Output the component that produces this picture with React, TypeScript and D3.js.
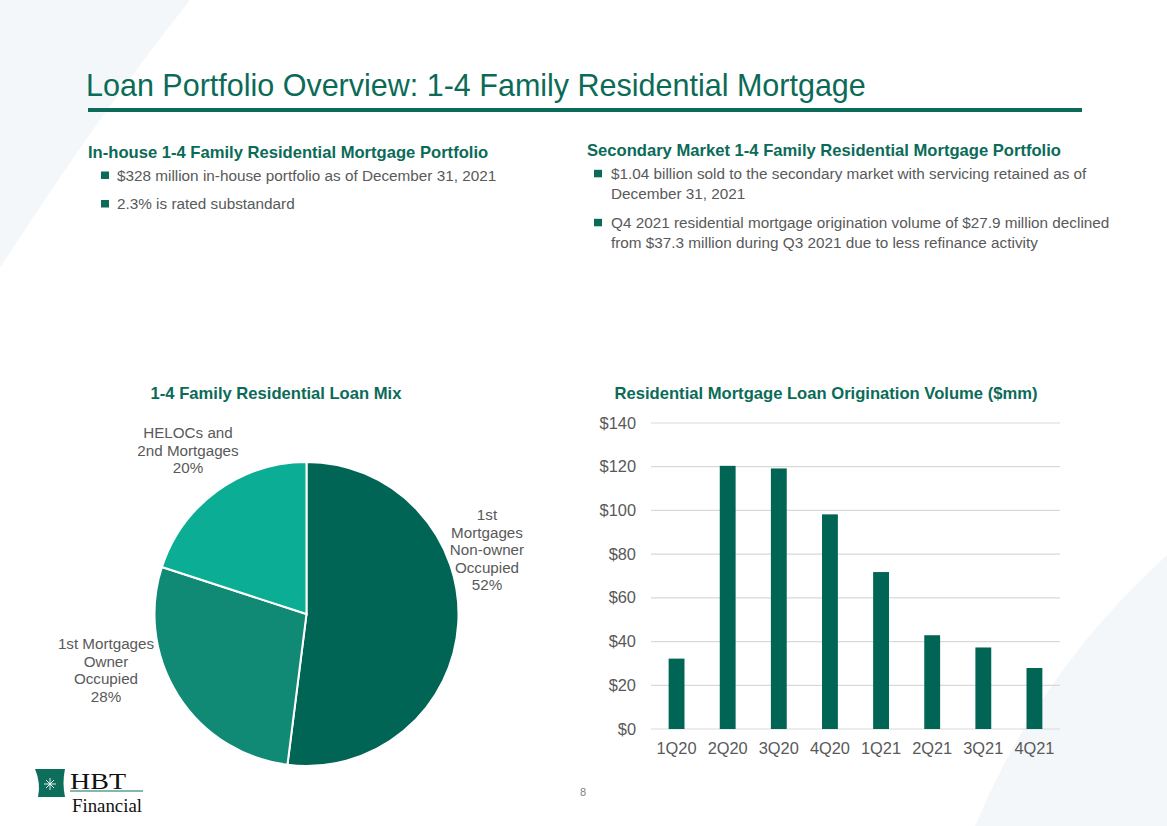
import React from "react";
import * as d3 from "d3";

const quarters = ["1Q20", "2Q20", "3Q20", "4Q20", "1Q21", "2Q21", "3Q21", "4Q21"];
const volumes = [32.2, 120.4, 119.2, 98.2, 71.8, 42.9, 37.3, 27.9];
const yTicks = [0, 20, 40, 60, 80, 100, 120, 140];

const mixLabels = [
  ["1st", "Mortgages", "Non-owner", "Occupied", "52%"],
  ["1st Mortgages", "Owner", "Occupied", "28%"],
  ["HELOCs and", "2nd Mortgages", "20%"],
];
const mixValues = [52, 28, 20];
const mixColors = ["#006554", "#108a74", "#0bae94"];

const leftBullets = [
  ["$328 million in-house portfolio as of December 31, 2021"],
  ["2.3% is rated substandard"],
];
const rightBullets = [
  ["$1.04 billion sold to the secondary market with servicing retained as of", "December 31, 2021"],
  ["Q4 2021 residential mortgage origination volume of $27.9 million declined", "from $37.3 million during Q3 2021 due to less refinance activity"],
];

const GREEN = "#0b6b58";
const GRAY = "#595959";
const FONT = "'Liberation Sans', Arial, sans-serif";

export default function App() {
  const W = 1167, H = 826;

  // bar chart
  const x = d3.scaleBand<string>().domain(quarters).range([651, 1060]).paddingInner(0).paddingOuter(0);
  const y = d3.scaleLinear().domain([0, 140]).range([729, 423]);
  const barW = x.bandwidth() * 0.31;

  // pie
  const cx = 306.5, cy = 614, R = 152;
  const pie = d3.pie<number>().sort(null).value((d) => d)(mixValues);
  const arc = d3.arc<d3.PieArcDatum<number>>().innerRadius(0).outerRadius(R);
  const labelPos = [
    { x: 487, y: 520 },
    { x: 106, y: 649 },
    { x: 188, y: 438 },
  ];

  return (
    <div style={{ position: "absolute", left: 0, top: 0 }}>
      <svg width={W} height={H} style={{ display: "block", fontFamily: FONT }}>
        <rect width={W} height={H} fill="#ffffff" />
        {/* background shapes */}
        <path d="M0,0 L190,0 Q95,120 0,268 Z" fill="#f4f7f9" />
        <path d="M1167,555 Q1040,670 975,826 L1167,826 Z" fill="#f4f7f9" />

        {/* title */}
        <text x={86} y={96} fontSize={30.5} fill={GREEN}>
          Loan Portfolio Overview: 1-4 Family Residential Mortgage
        </text>
        <rect x={88} y={108} width={994} height={4} fill={GREEN} />

        {/* section headers */}
        <text x={88} y={157.5} fontSize={16.6} fontWeight="bold" fill={GREEN}>
          In-house 1-4 Family Residential Mortgage Portfolio
        </text>
        <text x={587} y={156} fontSize={16.6} fontWeight="bold" fill={GREEN}>
          Secondary Market 1-4 Family Residential Mortgage Portfolio
        </text>

        {leftBullets.map((lines, i) => (
          <g key={"lb" + i}>
            <rect x={101} y={175 + i * 28.5 - 3.5} width={8} height={7.5} fill={GREEN} />
            {lines.map((l, j) => (
              <text key={j} x={117} y={180.5 + i * 28.5 + j * 20} fontSize={15.3} fill={GRAY}>
                {l}
              </text>
            ))}
          </g>
        ))}
        {rightBullets.map((lines, i) => (
          <g key={"rb" + i}>
            <rect x={594} y={173.3 + i * 49 - 3.5} width={8} height={7.5} fill={GREEN} />
            {lines.map((l, j) => (
              <text key={j} x={611} y={178.8 + i * 49 + j * 20} fontSize={15.3} fill={GRAY}>
                {l}
              </text>
            ))}
          </g>
        ))}

        {/* pie chart */}
        <text x={276} y={399} fontSize={16.6} fontWeight="bold" fill={GREEN} textAnchor="middle">
          1-4 Family Residential Loan Mix
        </text>
        <g transform={`translate(${cx},${cy})`}>
          {pie.map((d, i) => (
            <path key={i} d={arc(d) || ""} fill={mixColors[i]} stroke="#ffffff" strokeWidth={2} />
          ))}
        </g>
        {mixLabels.map((lines, i) => (
          <text key={"ml" + i} fontSize={15.2} fill={GRAY} textAnchor="middle">
            {lines.map((l, j) => (
              <tspan key={j} x={labelPos[i].x} y={labelPos[i].y + j * 17.5}>
                {l}
              </tspan>
            ))}
          </text>
        ))}

        {/* bar chart */}
        <text x={826} y={399} fontSize={16.6} fontWeight="bold" fill={GREEN} textAnchor="middle">
          Residential Mortgage Loan Origination Volume ($mm)
        </text>
        {yTicks.map((t) => (
          <g key={"t" + t}>
            <line x1={651} x2={1060} y1={y(t)} y2={y(t)} stroke="#d9d9d9" strokeWidth={1.2} />
            <text x={636} y={y(t) + 5.5} fontSize={16.4} fill={GRAY} textAnchor="end">
              {"$" + t}
            </text>
          </g>
        ))}
        {quarters.map((q, i) => (
          <g key={q}>
            <rect
              x={(x(q) as number) + x.bandwidth() / 2 - barW / 2}
              y={y(volumes[i])}
              width={barW}
              height={y(0) - y(volumes[i])}
              fill="#006554"
            />
            <text x={(x(q) as number) + x.bandwidth() / 2} y={754} fontSize={16.4} fill={GRAY} textAnchor="middle">
              {q}
            </text>
          </g>
        ))}

        {/* page number */}
        <text x={583} y={796} fontSize={11} fill="#7f7f7f" textAnchor="middle">8</text>

        {/* logo */}
        <g>
          <path d="M35,769 L65,769 Q62,783 65,797 L38,797 Q41,783 35,769 Z" fill="#0d6e5c" />
          <g stroke="#ffffff" strokeWidth={0.9}>
            <line x1={44} y1={784} x2={56} y2={784} />
            <line x1={50} y1={778} x2={50} y2={790} />
            <line x1={46} y1={780} x2={54} y2={788} />
            <line x1={54} y1={780} x2={46} y2={788} />
          </g>
          <text x={70} y={789} fontSize={24} textLength={56} lengthAdjust="spacingAndGlyphs" fontFamily="'Liberation Serif', 'DejaVu Serif', serif" fill="#111">HBT</text>
          <line x1={70} y1={791} x2={143} y2={791} stroke="#0d6e5c" strokeWidth={1} />
          <text x={72} y={812} fontSize={18} textLength={70} lengthAdjust="spacingAndGlyphs" fontFamily="'Liberation Serif', 'DejaVu Serif', serif" fill="#111">Financial</text>
        </g>
      </svg>
    </div>
  );
}
